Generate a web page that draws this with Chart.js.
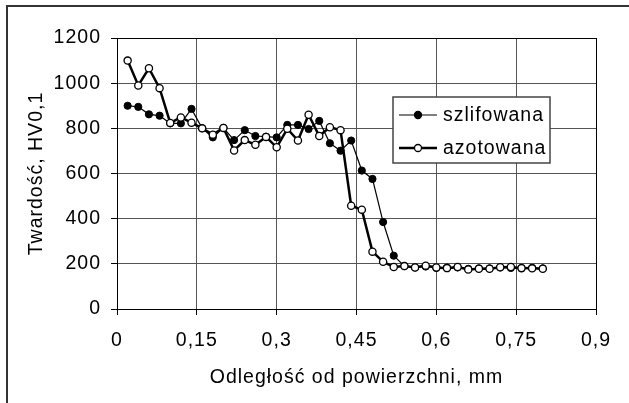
<!DOCTYPE html>
<html>
<head>
<meta charset="utf-8">
<script src="https://cdn.jsdelivr.net/npm/chart.js@4"></script>
<style>
  html, body { margin: 0; padding: 0; background: #fff; }
  #wrap { width: 629px; height: 403px; }
</style>
</head>
<body>
<div id="wrap"><canvas id="chart" width="629" height="403"></canvas></div>
<script>
const distances = [0.02, 0.04, 0.06, 0.08, 0.10, 0.12, 0.14, 0.16, 0.18, 0.20,
  0.22, 0.24, 0.26, 0.28, 0.30, 0.32, 0.34, 0.36, 0.38, 0.40,
  0.42, 0.44, 0.46, 0.48, 0.50, 0.52, 0.54, 0.56, 0.58, 0.60,
  0.62, 0.64, 0.66, 0.68, 0.70, 0.72, 0.74, 0.76, 0.78, 0.80];

const szlifowana = [900, 895, 862, 856, 822, 822, 886, 800, 760, 802,
  748, 792, 766, 763, 760, 815, 815, 797, 833, 734,
  701, 746, 613, 576, 385, 236, 190, 184, 188, 182,
  183, 184, 178, 180, 180, 184, 182, 180, 182, 180];

const azotowana = [1100, 990, 1066, 978, 824, 848, 825, 800, 772, 802,
  702, 748, 727, 762, 716, 798, 746, 860, 766, 805,
  792, 457, 440, 254, 209, 186, 190, 184, 192, 184,
  181, 186, 175, 178, 178, 185, 186, 181, 180, 178];

const xTickValues = [0, 0.15, 0.3, 0.45, 0.6, 0.75, 0.9];
const xTickLabels = ['0', '0,15', '0,3', '0,45', '0,6', '0,75', '0,9'];
const yTickValues = [0, 200, 400, 600, 800, 1000, 1200];
const yTickLabels = ['0', '200', '400', '600', '800', '1000', '1200'];

const seriesNames = ['szlifowana', 'azotowana'];

const FONT = "'Liberation Sans', Arial, sans-serif";
const FSIZE = 19.5;
const SPACING = '1px';

function pts(ys) {
  return distances.map((x, i) => ({ x: x, y: ys[i] }));
}

// wider text like in the original picture
const spacingPlugin = {
  id: 'spacing',
  beforeLayout(chart) { chart.ctx.letterSpacing = SPACING; },
  beforeDraw(chart) { chart.ctx.letterSpacing = SPACING; },
};

const framePlugin = {
  id: 'frame',
  beforeDraw(chart) {
    const ctx = chart.ctx;
    ctx.save();
    ctx.fillStyle = '#fff';
    ctx.fillRect(0, 0, chart.width, chart.height);
    ctx.strokeStyle = '#333';
    ctx.lineWidth = 2;
    ctx.strokeRect(7, 6, 700, 500);
    ctx.restore();
  },
  afterDatasetsDraw(chart) {
    const ctx = chart.ctx;
    const a = chart.chartArea;
    ctx.save();
    ctx.strokeStyle = '#000';
    ctx.lineWidth = 1;
    ctx.strokeRect(Math.round(a.left) + 0.5, Math.round(a.top) + 0.5,
      Math.round(a.right - a.left), Math.round(a.bottom - a.top));
    ctx.restore();
  },
  afterDraw(chart) {
    // legend box inside the plot
    const ctx = chart.ctx;
    ctx.save();
    ctx.letterSpacing = SPACING;
    const bx = 393, by = 97, bw = 157, bh = 66;
    ctx.fillStyle = '#fff';
    ctx.fillRect(bx, by, bw, bh);
    ctx.strokeStyle = '#444';
    ctx.lineWidth = 1.5;
    ctx.strokeRect(bx, by, bw, bh);
    const rows = [
      { y: 115, lw: 1, fill: '#000', r: 3.5 },
      { y: 148, lw: 2.5, fill: '#fff', r: 3.5 },
    ];
    rows.forEach((row, i) => {
      ctx.strokeStyle = '#000';
      ctx.lineWidth = row.lw;
      ctx.beginPath();
      ctx.moveTo(399, row.y);
      ctx.lineTo(437, row.y);
      ctx.stroke();
      ctx.beginPath();
      ctx.arc(418, row.y, row.r, 0, Math.PI * 2);
      ctx.fillStyle = row.fill;
      ctx.fill();
      ctx.lineWidth = 1.3;
      ctx.stroke();
      ctx.fillStyle = '#000';
      ctx.font = FSIZE + 'px ' + FONT;
      ctx.textAlign = 'left';
      ctx.textBaseline = 'middle';
      ctx.fillText(seriesNames[i], 443, row.y + 1);
    });
    ctx.restore();
  },
};

const config = {
  type: 'line',
  data: {
    datasets: [
      {
        label: seriesNames[0],
        data: pts(szlifowana),
        borderColor: '#000',
        backgroundColor: '#000',
        borderWidth: 1.2,
        pointRadius: 3.6,
        pointBorderWidth: 1,
        pointBackgroundColor: '#000',
        pointBorderColor: '#000',
        order: 1,
      },
      {
        label: seriesNames[1],
        data: pts(azotowana),
        borderColor: '#000',
        backgroundColor: '#fff',
        borderWidth: 2.5,
        pointRadius: 3.6,
        pointBorderWidth: 1.3,
        pointBackgroundColor: '#fff',
        pointBorderColor: '#000',
        order: 0,
      },
    ],
  },
  options: {
    responsive: false,
    animation: false,
    devicePixelRatio: 1,
    layout: {
      padding: { top: 38, right: 33, left: 0, bottom: 0 },
    },
    plugins: {
      legend: { display: false },
      tooltip: { enabled: false },
    },
    scales: {
      x: {
        type: 'linear',
        min: 0,
        max: 0.9,
        afterBuildTicks: (s) => { s.ticks = xTickValues.map(v => ({ value: v })); },
        afterFit: (s) => { s.height = 94; },
        ticks: {
          color: '#000',
          padding: 14,
          maxRotation: 0,
          font: { family: FONT, size: FSIZE },
          callback: (v, i) => xTickLabels[i],
        },
        grid: { color: '#555', tickLength: 6, tickColor: '#000' },
        border: { color: '#000' },
        title: {
          display: true,
          text: 'Odległość od powierzchni, mm',
          color: '#000',
          font: { family: FONT, size: FSIZE },
          padding: { top: 0, bottom: 14 },
        },
      },
      y: {
        min: 0,
        max: 1200,
        afterBuildTicks: (s) => { s.ticks = yTickValues.map(v => ({ value: v })); },
        afterFit: (s) => { s.width = 117; },
        ticks: {
          color: '#000',
          padding: 10,
          font: { family: FONT, size: FSIZE },
          callback: (v, i) => yTickLabels[i],
        },
        grid: { color: '#555', tickLength: 6, tickColor: '#000' },
        border: { color: '#000' },
        title: {
          display: true,
          text: 'Twardość, HV0,1',
          color: '#000',
          font: { family: FONT, size: FSIZE },
          padding: { top: 25, bottom: 0 },
        },
      },
    },
  },
  plugins: [spacingPlugin, framePlugin],
};

const myChart = new Chart(document.getElementById('chart'), config);
</script>
</body>
</html>
